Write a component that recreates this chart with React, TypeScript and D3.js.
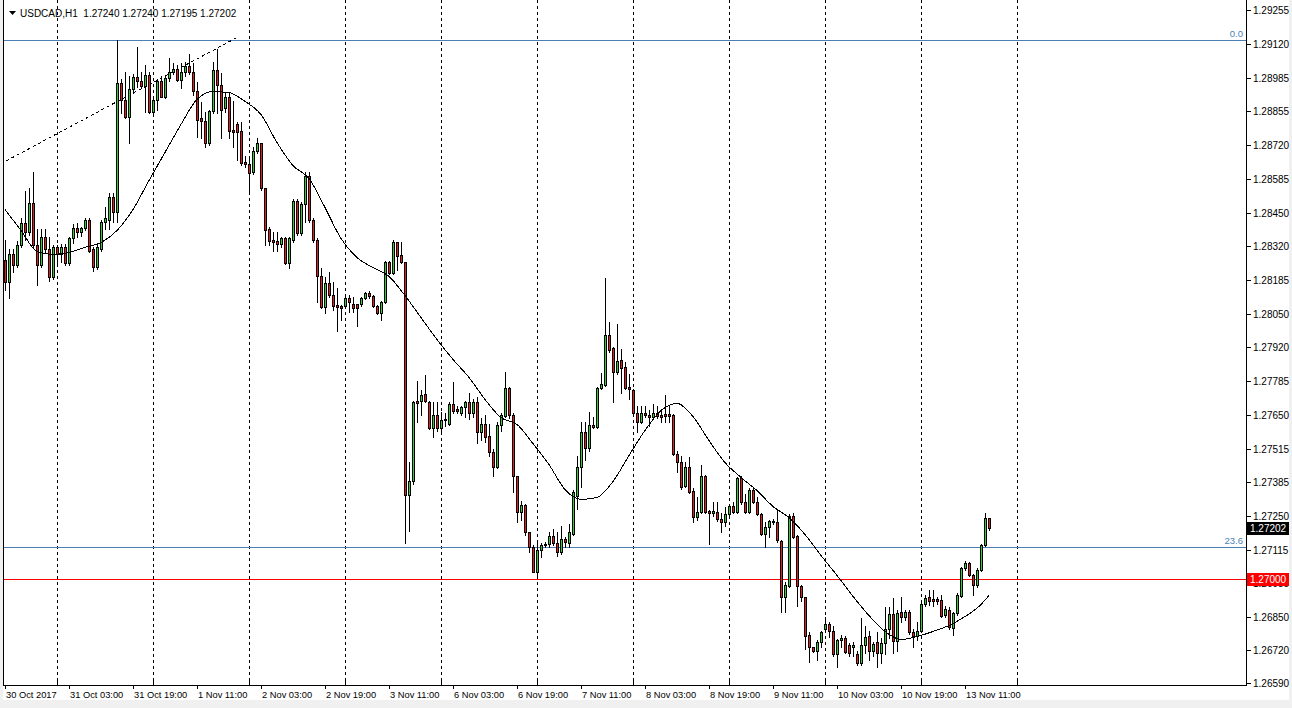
import React from "react";
import * as d3 from "d3";

const symbol = "USDCAD,H1";

const openP = [
1.28265,1.28174,1.28285,1.28245,1.28324,1.28408,1.28372,1.28487,1.28324,1.28245,
1.28356,1.28305,1.28194,1.28313,1.28285,1.28316,1.28253,1.28352,1.28388,1.28372,
1.28388,1.28423,1.28305,1.28237,1.28305,1.28415,1.28423,1.28511,1.28455,1.28962,
1.28895,1.28831,1.28942,1.28986,1.28970,1.28954,1.28994,1.28851,1.28895,1.28970,
1.28910,1.28982,1.29009,1.29021,1.28974,1.29006,1.29033,1.29006,1.28934,1.28827,
1.28815,1.28728,1.28855,1.29017,1.28958,1.28863,1.28907,1.28776,1.28800,1.28772,
1.28653,1.28645,1.28610,1.28693,1.28728,1.28550,1.28384,1.28344,1.28340,1.28328,
1.28352,1.28253,1.28344,1.28495,1.28368,1.28483,1.28594,1.28423,1.28344,1.28198,
1.28075,1.28170,1.28126,1.28083,1.28079,1.28079,1.28111,1.28087,1.28087,1.28087,
1.28111,1.28134,1.28122,1.28079,1.28055,1.28095,1.28257,1.28210,1.28336,1.28281,
1.28257,1.27334,1.27386,1.27703,1.27703,1.27734,1.27699,1.27596,1.27651,1.27596,
1.27631,1.27612,1.27691,1.27675,1.27659,1.27679,1.27699,1.27659,1.27699,1.27580,
1.27612,1.27568,1.27501,1.27445,1.27608,1.27647,1.27758,1.27651,1.27406,1.27267,
1.27291,1.27184,1.27128,1.27029,1.27113,1.27136,1.27140,1.27172,1.27144,1.27105,
1.27160,1.27144,1.27180,1.27330,1.27445,1.27580,1.27517,1.27608,1.27600,1.27758,
1.27770,1.27968,1.27913,1.27818,1.27869,1.27841,1.27762,1.27750,1.27659,1.27620,
1.27659,1.27651,1.27643,1.27659,1.27651,1.27655,1.27655,1.27651,1.27493,1.27465,
1.27370,1.27445,1.27350,1.27247,1.27267,1.27406,1.27271,1.27263,1.27267,1.27239,
1.27224,1.27259,1.27287,1.27267,1.27398,1.27303,1.27267,1.27354,1.27303,1.27259,
1.27180,1.27204,1.27231,1.27224,1.27152,1.26927,1.26974,1.27251,1.27172,1.26974,
1.26927,1.26780,1.26729,1.26713,1.26752,1.26800,1.26820,1.26792,1.26701,1.26760,
1.26768,1.26740,1.26729,1.26701,1.26669,1.26740,1.26776,1.26713,1.26752,1.26705,
1.26748,1.26800,1.26863,1.26756,1.26871,1.26851,1.26871,1.26788,1.26776,1.26792,
1.26899,1.26927,1.26919,1.26919,1.26915,1.26859,1.26879,1.26804,1.26867,1.26934,
1.27045,1.27065,1.27014,1.26978,1.27037,1.27136,1.27240
];

const highP = [
1.28344,1.28305,1.28305,1.28340,1.28431,1.28538,1.28550,1.28610,1.28384,1.28384,
1.28384,1.28356,1.28324,1.28324,1.28328,1.28328,1.28356,1.28404,1.28408,1.28392,
1.28431,1.28431,1.28313,1.28324,1.28423,1.28471,1.28530,1.28530,1.29136,1.28978,
1.29009,1.28990,1.28998,1.29108,1.29006,1.29037,1.29009,1.28899,1.28978,1.28990,
1.28990,1.29061,1.29045,1.29037,1.29045,1.29049,1.29077,1.29045,1.28966,1.28887,
1.28851,1.28859,1.29049,1.29097,1.29002,1.28926,1.28926,1.28891,1.28811,1.28808,
1.28673,1.28673,1.28712,1.28748,1.28728,1.28550,1.28392,1.28372,1.28372,1.28356,
1.28356,1.28356,1.28503,1.28503,1.28491,1.28610,1.28610,1.28431,1.28352,1.28233,
1.28194,1.28214,1.28174,1.28154,1.28083,1.28115,1.28126,1.28118,1.28087,1.28118,
1.28138,1.28142,1.28126,1.28083,1.28099,1.28261,1.28261,1.28344,1.28336,1.28336,
1.28257,1.27465,1.27703,1.27782,1.27750,1.27806,1.27703,1.27699,1.27699,1.27663,
1.27659,1.27699,1.27778,1.27683,1.27683,1.27703,1.27738,1.27711,1.27719,1.27639,
1.27651,1.27612,1.27513,1.27623,1.27659,1.27821,1.27762,1.27659,1.27406,1.27307,
1.27295,1.27184,1.27136,1.27148,1.27144,1.27148,1.27184,1.27196,1.27184,1.27208,
1.27168,1.27216,1.27354,1.27485,1.27623,1.27620,1.27663,1.27643,1.27762,1.27814,
1.28190,1.28016,1.27917,1.28008,1.27909,1.27861,1.27810,1.27754,1.27683,1.27683,
1.27683,1.27671,1.27691,1.27683,1.27671,1.27730,1.27687,1.27655,1.27505,1.27485,
1.27465,1.27481,1.27362,1.27323,1.27453,1.27410,1.27275,1.27303,1.27303,1.27263,
1.27283,1.27295,1.27303,1.27402,1.27406,1.27338,1.27362,1.27362,1.27326,1.27263,
1.27227,1.27235,1.27239,1.27275,1.27156,1.26986,1.27259,1.27263,1.27176,1.26978,
1.26930,1.26788,1.26732,1.26760,1.26792,1.26851,1.26828,1.26812,1.26764,1.26780,
1.26776,1.26748,1.26752,1.26713,1.26847,1.26812,1.26792,1.26752,1.26788,1.26768,
1.26887,1.26887,1.26923,1.26879,1.26927,1.26879,1.26879,1.26800,1.26828,1.26907,
1.26938,1.26958,1.26958,1.26930,1.26938,1.26891,1.26887,1.26871,1.26946,1.27049,
1.27073,1.27069,1.27018,1.27045,1.27140,1.27263,1.27240
];

const lowP = [
1.28146,1.28111,1.28214,1.28237,1.28313,1.28344,1.28364,1.28316,1.28166,1.28237,
1.28293,1.28178,1.28186,1.28253,1.28257,1.28245,1.28245,1.28332,1.28356,1.28360,
1.28380,1.28293,1.28221,1.28229,1.28297,1.28384,1.28384,1.28415,1.28415,1.28847,
1.28827,1.28728,1.28926,1.28950,1.28946,1.28851,1.28847,1.28847,1.28859,1.28907,
1.28903,1.28970,1.28998,1.28970,1.28946,1.28990,1.28998,1.28918,1.28752,1.28748,
1.28709,1.28720,1.28847,1.28847,1.28748,1.28851,1.28748,1.28709,1.28661,1.28641,
1.28633,1.28530,1.28602,1.28685,1.28542,1.28324,1.28324,1.28297,1.28297,1.28316,
1.28249,1.28233,1.28336,1.28364,1.28364,1.28415,1.28412,1.28336,1.28095,1.28071,
1.28055,1.28118,1.28067,1.27980,1.28027,1.28071,1.28059,1.28059,1.28000,1.28079,
1.28107,1.28111,1.28075,1.28051,1.28027,1.28091,1.28206,1.28206,1.28225,1.28253,
1.27144,1.27188,1.27378,1.27620,1.27651,1.27699,1.27592,1.27564,1.27584,1.27584,
1.27604,1.27608,1.27659,1.27659,1.27651,1.27643,1.27635,1.27643,1.27540,1.27552,
1.27544,1.27485,1.27406,1.27441,1.27584,1.27643,1.27639,1.27346,1.27224,1.27235,
1.27176,1.27105,1.27026,1.27014,1.27085,1.27125,1.27125,1.27136,1.27089,1.27097,
1.27128,1.27128,1.27176,1.27279,1.27366,1.27473,1.27505,1.27596,1.27596,1.27754,
1.27766,1.27897,1.27699,1.27810,1.27738,1.27754,1.27711,1.27655,1.27580,1.27616,
1.27643,1.27604,1.27639,1.27639,1.27623,1.27623,1.27620,1.27489,1.27422,1.27358,
1.27366,1.27342,1.27224,1.27235,1.27263,1.27263,1.27140,1.27251,1.27231,1.27184,
1.27208,1.27243,1.27263,1.27263,1.27295,1.27263,1.27263,1.27299,1.27255,1.27176,
1.27125,1.27168,1.27216,1.27148,1.26871,1.26871,1.26970,1.27164,1.26891,1.26911,
1.26721,1.26673,1.26709,1.26681,1.26732,1.26788,1.26772,1.26693,1.26653,1.26732,
1.26705,1.26693,1.26693,1.26661,1.26661,1.26705,1.26681,1.26693,1.26653,1.26669,
1.26701,1.26768,1.26705,1.26713,1.26831,1.26839,1.26784,1.26729,1.26760,1.26788,
1.26891,1.26895,1.26891,1.26899,1.26851,1.26851,1.26800,1.26780,1.26859,1.26930,
1.27037,1.27010,1.26938,1.26970,1.27033,1.27132,1.27195
];

const closeP = [
1.28174,1.28285,1.28245,1.28324,1.28408,1.28372,1.28487,1.28324,1.28245,1.28356,
1.28305,1.28194,1.28313,1.28285,1.28316,1.28253,1.28352,1.28388,1.28372,1.28388,
1.28423,1.28297,1.28237,1.28316,1.28415,1.28431,1.28514,1.28455,1.28962,1.28895,
1.28831,1.28942,1.28986,1.28970,1.28954,1.28994,1.28851,1.28895,1.28970,1.28910,
1.28982,1.29009,1.29021,1.28974,1.29006,1.29033,1.29006,1.28934,1.28819,1.28815,
1.28728,1.28855,1.29017,1.28958,1.28859,1.28907,1.28772,1.28768,1.28768,1.28649,
1.28645,1.28606,1.28693,1.28728,1.28550,1.28380,1.28340,1.28336,1.28328,1.28352,
1.28253,1.28352,1.28495,1.28368,1.28483,1.28594,1.28423,1.28344,1.28198,1.28075,
1.28170,1.28126,1.28079,1.28075,1.28071,1.28111,1.28095,1.28071,1.28071,1.28111,
1.28134,1.28122,1.28079,1.28055,1.28095,1.28257,1.28210,1.28336,1.28277,1.28257,
1.27334,1.27386,1.27699,1.27695,1.27730,1.27703,1.27596,1.27651,1.27596,1.27631,
1.27635,1.27691,1.27667,1.27667,1.27679,1.27699,1.27659,1.27699,1.27580,1.27612,
1.27564,1.27501,1.27445,1.27608,1.27651,1.27758,1.27651,1.27406,1.27267,1.27291,
1.27184,1.27128,1.27029,1.27113,1.27136,1.27140,1.27172,1.27144,1.27105,1.27160,
1.27148,1.27184,1.27346,1.27445,1.27580,1.27517,1.27608,1.27600,1.27758,1.27774,
1.27968,1.27905,1.27821,1.27865,1.27837,1.27758,1.27754,1.27659,1.27620,1.27659,
1.27651,1.27643,1.27659,1.27647,1.27643,1.27647,1.27647,1.27493,1.27465,1.27366,
1.27445,1.27346,1.27247,1.27267,1.27406,1.27267,1.27263,1.27271,1.27239,1.27224,
1.27259,1.27287,1.27267,1.27398,1.27303,1.27267,1.27354,1.27303,1.27259,1.27180,
1.27204,1.27231,1.27224,1.27156,1.26927,1.26978,1.27251,1.27168,1.26974,1.26927,
1.26776,1.26729,1.26713,1.26752,1.26788,1.26820,1.26792,1.26701,1.26760,1.26768,
1.26709,1.26705,1.26740,1.26669,1.26740,1.26772,1.26713,1.26744,1.26705,1.26748,
1.26800,1.26863,1.26756,1.26867,1.26851,1.26871,1.26788,1.26776,1.26792,1.26899,
1.26923,1.26911,1.26911,1.26911,1.26855,1.26883,1.26808,1.26867,1.26938,1.27045,
1.27065,1.27014,1.26978,1.27037,1.27136,1.27243,1.27202
];

const maBars = [
0,4,8,12,16,20,24,28,32,36,40,44,48,52,56,60,64,68,72,76,80,84,88,92,96,100,
104,108,112,116,120,124,128,132,136,140,144,148,152,156,160,164,168,172,176,180,
184,188,192,196,200,204,208,212,216,220,224,228,232,236,240,244,246
];
const maValues = [
1.28463,1.28380,1.28297,1.28285,1.28293,1.28313,1.28332,1.28380,1.28463,1.28578,
1.28689,1.28800,1.28899,1.28930,1.28926,1.28891,1.28839,1.28728,1.28637,1.28586,
1.28471,1.28348,1.28273,1.28233,1.28198,1.28122,1.28035,1.27948,1.27869,1.27798,
1.27711,1.27639,1.27612,1.27536,1.27453,1.27354,1.27315,1.27323,1.27386,1.27489,
1.27588,1.27667,1.27695,1.27643,1.27548,1.27461,1.27402,1.27350,1.27287,1.27243,
1.27176,1.27093,1.27014,1.26931,1.26855,1.26792,1.26760,1.26772,1.26792,1.26816,
1.26851,1.26899,1.26935
];

const priceTicks = [
1.29255,1.2912,1.28985,1.28855,1.2872,1.28585,1.2845,1.2832,1.28185,1.2805,
1.2792,1.27785,1.2765,1.27515,1.27385,1.2725,1.27115,1.26985,1.2685,1.2672,1.2659
];

const timeLabels = [
"30 Oct 2017","31 Oct 03:00","31 Oct 19:00","1 Nov 11:00","2 Nov 03:00","2 Nov 19:00",
"3 Nov 11:00","6 Nov 03:00","6 Nov 19:00","7 Nov 11:00","8 Nov 03:00","8 Nov 19:00",
"9 Nov 11:00","10 Nov 03:00","10 Nov 19:00","13 Nov 11:00"
];
const timeLabelBars = [0,16,32,48,64,80,96,112,128,144,160,176,192,208,224,240];
const dayGridBars = [13,37,61,85,109,133,157,181,205,229,253];

const trendBars = [0, 58];
const trendPrices = [1.28653, 1.29144];

const fibLabels = ["0.0", "23.6"];
const fibPrices = [1.29136, 1.27128];

const supportPrice = 1.27;

const BULL = "#2ed12e";
const BEAR = "#e81c1c";
const FIB = "#4a7fb5";
const FONT = "'Liberation Sans', Arial, sans-serif";

export default function App() {
  const W = 1292;
  const H = 708;
  const plotLeft = 3;
  const axisX = 1246;
  const axisY = 685;

  const x = d3.scaleLinear().domain([0, 246]).range([5, 989]);
  const y = d3.scaleLinear().domain([1.2659, 1.29255]).range([682.5, 9.5]);
  const px = (v: number) => Math.round(x(v));
  const py = (v: number) => Math.round(y(v));

  const n = closeP.length;
  const last = n - 1;

  const maLine = d3
    .line<number>()
    .x((_, i) => x(maBars[i]))
    .y((d) => y(d))
    .curve(d3.curveMonotoneX)(maValues);

  const candles = [];
  for (let i = 0; i < n; i++) {
    const cx = px(i);
    const yH = py(highP[i]);
    const yL = py(lowP[i]);
    const yO = py(openP[i]);
    const yC = py(closeP[i]);
    const top = Math.min(yO, yC);
    const bot = Math.max(yO, yC);
    const bull = closeP[i] >= openP[i];
    candles.push(
      <g key={i}>
        <rect x={cx} y={yH} width={1} height={yL - yH + 1} fill="#000" />
        <rect x={cx - 1} y={top} width={3} height={bot - top + 1} fill="#000" />
        {bot - top >= 2 && (
          <rect x={cx} y={top + 1} width={1} height={bot - top - 1} fill={bull ? BULL : BEAR} />
        )}
      </g>
    );
  }

  const title = `${symbol}  ${openP[last].toFixed(5)} ${highP[last].toFixed(5)} ${lowP[last].toFixed(5)} ${closeP[last].toFixed(5)}`;

  const curY = py(closeP[last]);
  const supY = py(supportPrice);

  const tx0 = x(trendBars[0]);
  const ty0 = y(trendPrices[0]);
  const tx1 = x(trendBars[1]);
  const ty1 = y(trendPrices[1]);
  const slope = (ty1 - ty0) / (tx1 - tx0);

  return (
    <svg
      width={W}
      height={H}
      style={{ position: "absolute", left: 0, top: 0, display: "block" }}
      fontFamily={FONT}
    >
      <defs>
        <clipPath id="plot">
          <rect x={plotLeft + 1} y={0} width={axisX - plotLeft - 1} height={axisY} />
        </clipPath>
      </defs>
      <rect x={0} y={0} width={W} height={H} fill="#f0f0f0" />
      <rect x={plotLeft} y={0} width={1289 - plotLeft} height={700} fill="#ffffff" />

      <g clipPath="url(#plot)" shapeRendering="crispEdges">
        {dayGridBars.map((b) => (
          <line
            key={b}
            x1={px(b) + 0.5}
            x2={px(b) + 0.5}
            y1={0}
            y2={axisY}
            stroke="#000"
            strokeWidth={1}
            strokeDasharray="3,3"
          />
        ))}
        {fibPrices.map((p, i) => (
          <rect key={"f" + i} x={plotLeft} y={py(p)} width={axisX - plotLeft} height={1} fill={FIB} />
        ))}
        <rect x={plotLeft} y={supY} width={axisX - plotLeft} height={1} fill="#ff0000" />
        <line
          x1={tx0 - 4}
          y1={ty0 - 4 * slope}
          x2={tx1}
          y2={ty1}
          stroke="#000"
          strokeWidth={1}
          strokeDasharray="3,3"
        />
        {candles}
        <path d={maLine || ""} fill="none" stroke="#000" strokeWidth={1} />
      </g>

      {fibLabels.map((t, i) => (
        <text key={"fl" + i} x={axisX - 3} y={py(fibPrices[i]) - 3} fontSize={9.5} fill={FIB} textAnchor="end">
          {t}
        </text>
      ))}

      <g shapeRendering="crispEdges">
        <rect x={plotLeft} y={0} width={1} height={axisY + 1} fill="#000" />
        <rect x={axisX} y={0} width={1} height={axisY + 1} fill="#000" />
        <rect x={plotLeft} y={axisY} width={axisX - plotLeft + 1} height={1} fill="#000" />
      </g>

      <polygon points="9,11 16,11 12.5,15" fill="#000" />
      <text x={20} y={17} fontSize={10} fill="#000" xmlSpace="preserve">
        {title}
      </text>

      <g shapeRendering="crispEdges">
        {priceTicks.map((p) => (
          <rect key={"t" + p} x={axisX + 1} y={py(p)} width={4} height={1} fill="#000" />
        ))}
      </g>
      {priceTicks.map((p) => (
        <text key={"l" + p} x={1253} y={py(p) + 4} fontSize={10} fill="#000">
          {p.toFixed(5)}
        </text>
      ))}
      <rect x={axisX + 1} y={supY - 6} width={42} height={13} fill="#ff0000" />
      <text x={1250} y={supY + 4} fontSize={10} fill="#ffffff">
        {supportPrice.toFixed(5)}
      </text>
      <rect x={axisX + 1} y={curY - 6} width={42} height={13} fill="#000" />
      <text x={1250} y={curY + 4} fontSize={10} fill="#ffffff">
        {closeP[last].toFixed(5)}
      </text>

      <g shapeRendering="crispEdges">
        {dayGridBars.map((b) => (
          <rect key={"g" + b} x={px(b)} y={axisY - 4} width={1} height={4} fill="#000" />
        ))}
        {timeLabelBars.map((b) => (
          <rect key={"tt" + b} x={px(b)} y={axisY} width={1} height={4} fill="#000" />
        ))}
      </g>
      {timeLabels.map((t, i) => (
        <text key={t} x={px(timeLabelBars[i]) + 1} y={698} fontSize={9.3} fill="#000">
          {t}
        </text>
      ))}
    </svg>
  );
}
